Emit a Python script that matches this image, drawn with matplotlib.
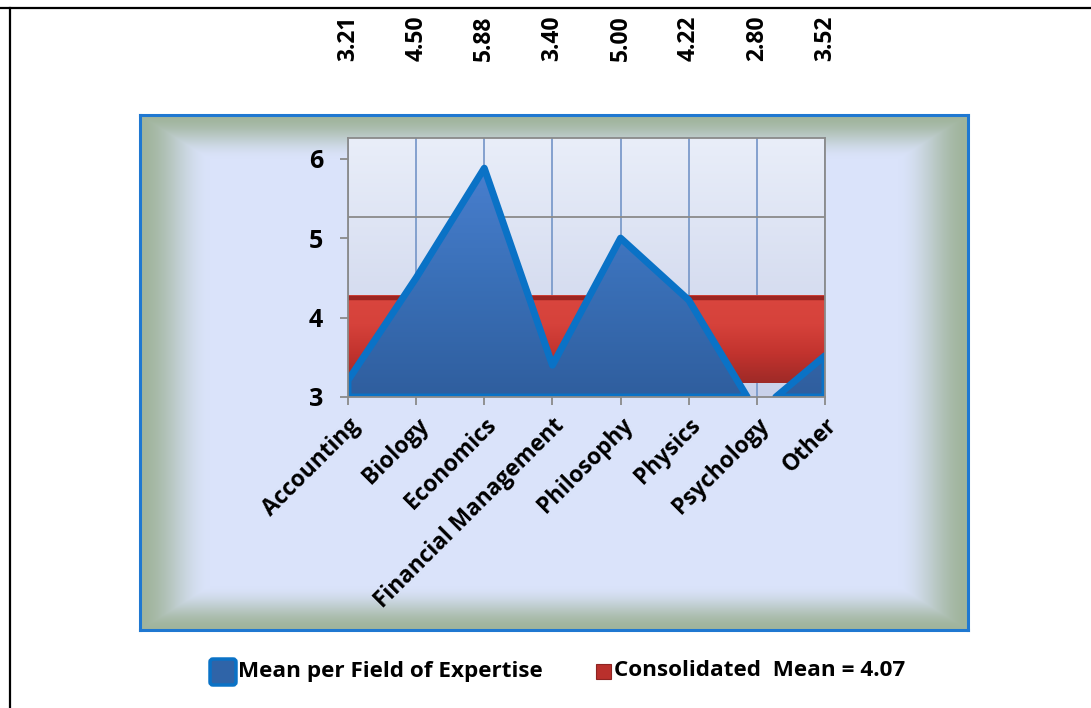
import numpy as np
import matplotlib
matplotlib.use("Agg")
import matplotlib.pyplot as plt
from matplotlib.patches import Rectangle, FancyBboxPatch
from matplotlib.colors import LinearSegmentedColormap
import matplotlib.transforms as mtransforms

# ---------------- data ----------------
categories = ["Accounting", "Biology", "Economics", "Financial Management",
              "Philosophy", "Physics", "Psychology", "Other"]
means = [3.21, 4.50, 5.88, 3.40, 5.00, 4.22, 2.80, 3.52]
consolidated_mean = 4.07
y_ticks = [3, 4, 5, 6]
legend_labels = ["Mean per Field of Expertise", "Consolidated  Mean = 4.07"]

# ---------------- style ----------------
W, H, DPI = 1091, 708, 100
FONT = ["Open Sans", "DejaVu Sans"]
plt.rcParams['font.family'] = FONT
plt.rcParams['font.weight'] = 'bold'

fig = plt.figure(figsize=(W / DPI, H / DPI), dpi=DPI)
fig.patch.set_facecolor("white")

def fx(px):
    return px / W

def fy(py):
    return 1 - py / H

# page border lines (top and left)
fig.add_artist(plt.Line2D([0, 1], [fy(7.5), fy(7.5)], color="black", lw=1.6,
                          transform=fig.transFigure))
fig.add_artist(plt.Line2D([fx(9.5), fx(9.5)], [0, fy(7.5)], color="black", lw=1.6,
                          transform=fig.transFigure))

# ---------------- chart area with bevel ----------------
cx0, cx1, cy0, cy1 = 140, 968, 115, 630
bg = fig.add_axes([fx(cx0), fy(cy1), fx(cx1 - cx0), (cy1 - cy0) / H])
bw, bh = cx1 - cx0, cy1 - cy0
xx, yy = np.meshgrid(np.arange(bw), np.arange(bh))
dx = np.minimum(xx, bw - 1 - xx) / 70.0
dy = np.minimum(yy, bh - 1 - yy) / 44.0
t = np.clip(np.minimum(dx, dy), 0, 1)
s = t * t * (3 - 2 * t)
edge = np.array([160, 180, 156]) / 255.0
inner = np.array([218, 227, 250]) / 255.0
img = edge[None, None, :] * (1 - s[..., None]) + inner[None, None, :] * s[..., None]
bg.imshow(img, aspect="auto", interpolation="bilinear")
bg.set_xticks([]); bg.set_yticks([])
for sp in bg.spines.values():
    sp.set_color("#1F78D1")
    sp.set_linewidth(2.2)

# ---------------- plot area ----------------
px0, px1, py0, py1 = 348, 825, 138, 397
ax = fig.add_axes([fx(px0), fy(py1), fx(px1 - px0), (py1 - py0) / H])
ymin, ytop = 3.0, 6.26
wall = 0.27      # apparent depth offset of the back wall / mean band
x = np.arange(len(categories))
ax.set_xlim(0, len(categories) - 1)
ax.set_ylim(ymin, ytop)
ax.set_facecolor("none")

# wall gradient
wall_cmap = LinearSegmentedColormap.from_list("wall", ["#C9D1EA", "#E9EEF9"])
ax.imshow(np.linspace(0, 1, 256)[:, None], cmap=wall_cmap, origin="lower",
          extent=[0, len(categories) - 1, ymin, ytop], aspect="auto", zorder=0)

# grid lines
for xi in x:
    ax.axvline(xi, color="#7C9BCB", lw=1.3, zorder=1)
for yt in y_ticks:
    ax.axhline(yt + wall, color="#8A8A8A", lw=1.3, zorder=1)

# consolidated mean band
band_top = consolidated_mean + 0.2
band_bot = 3.17
red_cmap = LinearSegmentedColormap.from_list("red", ["#9E2A27", "#C2332E", "#D6423B", "#D9463E"])
ax.imshow(np.linspace(0, 1, 256)[:, None], cmap=red_cmap, origin="lower",
          extent=[0, len(categories) - 1, band_bot, band_top], aspect="auto", zorder=2)
ax.axhline(band_top - 0.02, color="#9C2421", lw=3.2, zorder=2)

# blue area with gradient (split where values fall below the axis minimum)
m = np.array(means)
above = m >= ymin
blue_cmap = LinearSegmentedColormap.from_list("blue", ["#2F5E9E", "#3A70B8", "#4A80D0"])
poly = ax.fill_between(x, ymin, m, where=above, interpolate=True,
                       facecolor="none", edgecolor="none", zorder=3)
for p in poly.get_paths():
    g = ax.imshow(np.linspace(0, 1, 256)[:, None], cmap=blue_cmap, origin="lower",
                  extent=[0, len(categories) - 1, ymin, 6.0], aspect="auto", zorder=3)
    g.set_clip_path(p, ax.transData)
ax.fill_between(x, ymin, m, where=above, interpolate=True,
                facecolor="none", edgecolor="#0A72C6", linewidth=5.0,
                joinstyle="round", zorder=4)

# spines and ticks
for sp in ax.spines.values():
    sp.set_color("#8A8A8A")
    sp.set_linewidth(1.3)
    sp.set_zorder(5)
ax.set_yticks(y_ticks)
ax.set_yticklabels([str(v) for v in y_ticks], fontsize=18, fontweight="bold")
ax.set_xticks(x)
ax.set_xticklabels(categories, rotation=45, ha="right", rotation_mode="anchor",
                   fontsize=16.3, fontweight="bold")
ax.tick_params(axis="both", direction="out", length=6, width=1.3, color="#8A8A8A")
ax.tick_params(axis="y", pad=12)
ax.tick_params(axis="x", pad=6)

# value labels on top of the page
trans = mtransforms.blended_transform_factory(ax.transData, fig.transFigure)
for xi, v in zip(x, means):
    ax.text(xi, fy(38), f"{v:.2f}", rotation=90, ha="center", va="center",
            fontsize=16.5, fontweight="bold", transform=trans, clip_on=False)

# ---------------- legend ----------------
lx = fig.add_axes([0, 0, 1, 1], facecolor="none")
lx.set_xlim(0, W); lx.set_ylim(H, 0); lx.axis("off")
lx.add_patch(FancyBboxPatch((210, 659), 26, 26, boxstyle="round,pad=0,rounding_size=3",
                            facecolor="#2F64A8", edgecolor="#0A72C6", lw=2.5))
lx.text(238, 671, legend_labels[0], fontsize=16.2, fontweight="bold",
        ha="left", va="center")
lx.add_patch(Rectangle((596, 664), 15, 15, facecolor="#B9302C", edgecolor="#8E2422", lw=0.8))
lx.text(614, 671, legend_labels[1], fontsize=16.2, fontweight="bold",
        ha="left", va="center")

fig.savefig("out.png", dpi=DPI)
